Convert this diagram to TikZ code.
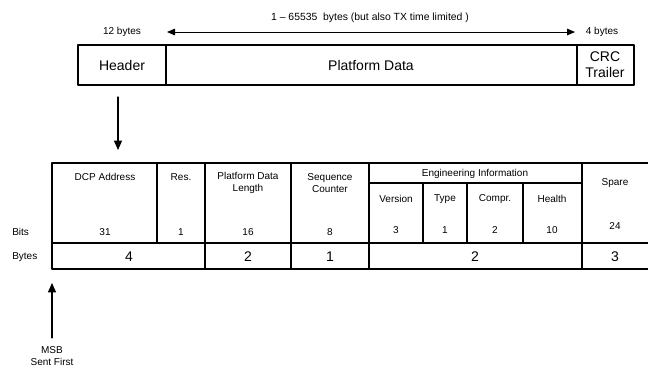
\documentclass[tikz,border=0pt]{standalone}
\usepackage{fontspec}
\setmainfont{Liberation Sans}
\usetikzlibrary{arrows.meta}

\tikzset{
	lbl/.style={inner sep=0pt, font=\fontsize{7.5}{9.5}\selectfont, align=center},
	big/.style={inner sep=0pt, font=\fontsize{10.5}{12}\selectfont, align=center},
	box/.style={line width=0.9pt}
}

\begin{document}
\begin{tikzpicture}[x=0.75pt, y=-0.75pt, line cap=round, line join=round, >={Triangle[length=7pt, width=6pt]}]
	\useasboundingbox (0,0) rectangle (648,369);
	% frame: header, data, trailer
	\draw[box] (78,45) rectangle (634,85);
	\draw[box] (166,45)--(166,85) (577,45)--(577,85);
	\node[big] (hdr) at (122,65) {Header};
	\node[big] (pdata) at (371,65) {Platform Data};
	\node[big] (crc) at (605,65) {CRC\\Trailer};
	\node[lbl] (hdrlen) at (122,32) {12 bytes};
	\node[lbl] (crclen) at (602,32) {4 bytes};
	\node[lbl, font=\fontsize{7.8}{9.5}\selectfont] (datalen) at (370,18) {1 -- 65535\ \ bytes\ (but also TX time limited )};
	\coordinate (datal) at (167,32);
	\coordinate (datar) at (575,32);
	\draw[{Triangle[length=6pt, width=5pt]}-{Triangle[length=6pt, width=5pt]}, line width=0.7pt] (datal)--(datar);
	% header expanded
	\coordinate (hdrtop) at (118,97);
	\coordinate (tbltop) at (118,150);
	\draw[->, line width=0.9pt] (hdrtop)--(tbltop);
	\draw[box] (648,163)--(52,163)--(52,269)--(648,269);
	\draw[box] (52,243)--(648,243);
	\draw[box] (369,183)--(582,183);
	\draw[box] (157,163)--(157,243);
	\foreach \x in {205,291,369,582}
		\draw[box] (\x,163)--(\x,269);
	\foreach \x in {423,467,523}
		\draw[box] (\x,183)--(\x,243);
	% field names
	\node[lbl] (addr) at (105,177) {DCP Address};
	\node[lbl] (res) at (181,177) {Res.};
	\node[lbl] (pdl) at (248,183) {Platform Data\\Length};
	\node[lbl] (seq) at (330,183) {Sequence\\Counter};
	\node[lbl] (eng) at (475,174) {Engineering Information};
	\node[lbl] (ver) at (396,199) {Version};
	\node[lbl] (typ) at (445,199) {Type};
	\node[lbl] (cmp) at (495,199) {Compr.};
	\node[lbl] (hlth) at (552,199) {Health};
	\node[lbl] (spare) at (615,183) {Spare};
	% bit counts
	\node[lbl, anchor=west] (bits) at (12,232) {Bits};
	\node[lbl] (b-addr) at (105,232) {31};
	\node[lbl] (b-res) at (181,232) {1};
	\node[lbl] (b-pdl) at (248,232) {16};
	\node[lbl] (b-seq) at (330,232) {8};
	\node[lbl] (b-ver) at (396,230) {3};
	\node[lbl] (b-typ) at (445,230) {1};
	\node[lbl] (b-cmp) at (495,230) {2};
	\node[lbl] (b-hlth) at (552,230) {10};
	\node[lbl] (b-spare) at (615,226) {24};
	% byte counts
	\node[lbl, anchor=west] (bytes) at (12,257) {Bytes};
	\node[big] (y-addr) at (129,257) {4};
	\node[big] (y-pdl) at (248,257) {2};
	\node[big] (y-seq) at (330,257) {1};
	\node[big] (y-eng) at (475,257) {2};
	\node[big] (y-spare) at (615,257) {3};
	% bit order
	\node[lbl] (msb) at (52,356) {MSB\\Sent First};
	\coordinate (msbtip) at (52,283);
	\draw[->, line width=0.9pt] (msb.north)++(0,-8)--(msbtip);
\end{tikzpicture}
\end{document}
